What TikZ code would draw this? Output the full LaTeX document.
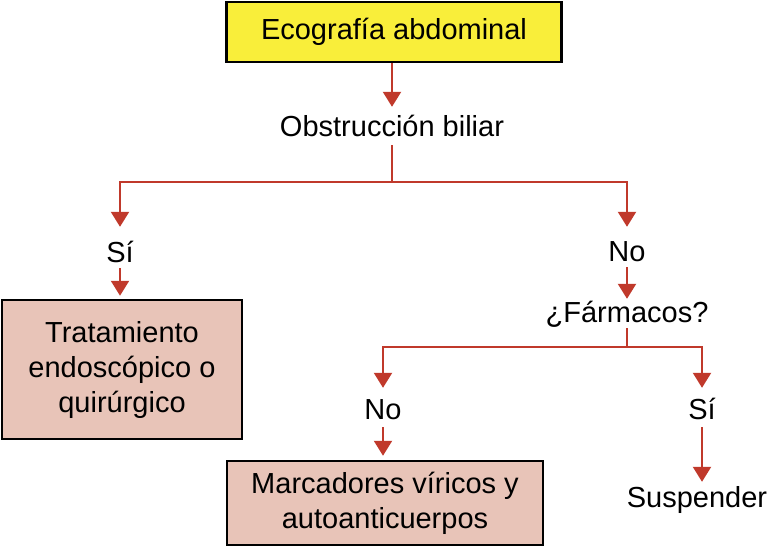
\documentclass[tikz,border=0pt]{standalone}
\usepackage{fontspec}
\setmainfont{Liberation Sans}
\usetikzlibrary{arrows.meta}
\definecolor{boxyellow}{RGB}{249,238,58}
\definecolor{boxpink}{RGB}{232,196,184}
\definecolor{linkred}{RGB}{192,57,43}
\begin{document}
\begin{tikzpicture}[x=1pt,y=-1pt,
  every node/.style={font=\fontsize{29}{35}\selectfont},
  lbl/.style={anchor=base,inner xsep=2pt,inner ysep=0pt,text height=22pt,text depth=6pt},
  box/.style={draw=black,line width=2.5pt,fill=boxpink,align=center,inner sep=0pt},
  link/.style={draw=linkred,line width=2.2pt},
  arr/.style={link,-{Triangle[width=18pt,length=15pt]}}]
\useasboundingbox (0,0) rectangle (771,546);
\node[box,fill=boxyellow,minimum width=335pt,minimum height=60pt] (eco) at (394,32) {Ecografía abdominal};
\node[lbl] (obs) at (392,136) {Obstrucción biliar};
\node[lbl] (si1) at (120,262) {Sí};
\node[lbl] (no1) at (627,261) {No};
\node[box,minimum width=240pt,minimum height=139pt] (trat) at (122,369.5) {Tratamiento\\endoscópico o\\quirúrgico};
\node[lbl] (farm) at (627,322) {¿Fármacos?};
\node[lbl] (no2) at (383,419) {No};
\node[lbl] (si2) at (702,419) {Sí};
\node[box,minimum width=316pt,minimum height=84pt] (marc) at (385,503) {Marcadores víricos y\\autoanticuerpos};
\node[lbl] (susp) at (697,507) {Suspender};
\coordinate (j1) at (392,182);
\coordinate (j2) at (627,347);
\draw[arr,shorten >=7pt] (eco.south -| obs) -- (obs);
\draw[link,shorten <=3pt] (obs) -- (j1);
\draw[arr,shorten >=13pt] (j1) -| (si1);
\draw[arr,shorten >=12pt] (j1) -| (no1);
\draw[arr,shorten >=3pt] (si1) -- (si1 |- trat.north);
\draw[arr,shorten >=1pt] (no1) -- (farm);
\draw[link] (farm) -- (j2);
\draw[arr,shorten >=9pt] (j2) -| (no2);
\draw[arr,shorten >=9pt] (j2) -| (si2);
\draw[arr,shorten >=4pt,shorten <=2pt] (no2) -- (no2 |- marc.north);
\draw[arr,shorten >=3pt,shorten <=2pt] (si2) -- (si2 |- susp.north);
\end{tikzpicture}
\end{document}
